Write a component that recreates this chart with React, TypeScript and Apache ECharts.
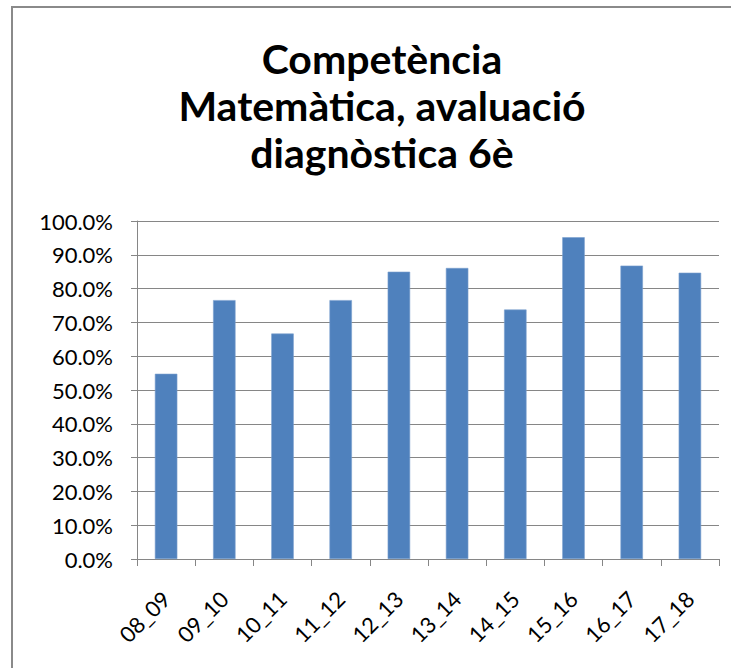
import React, { useEffect, useRef } from "react";
import * as echarts from "echarts";

const titleLines = ["Competència", "Matemàtica, avaluació", "diagnòstica 6è"];
const categories = ["08_09", "09_10", "10_11", "11_12", "12_13", "13_14", "14_15", "15_16", "16_17", "17_18"];
const values = [54.8, 76.6, 66.7, 76.6, 85.0, 86.1, 73.8, 95.2, 86.8, 84.7];
const yMin = 0;
const yMax = 100;
const yStep = 10;

export default function App() {
  const ref = useRef<HTMLDivElement>(null);
  useEffect(() => {
    if (!ref.current) return;
    const chart = echarts.init(ref.current, null, { renderer: "svg" });
    const font = "Lato, 'Liberation Sans', sans-serif";
    chart.setOption({
      animation: false,
      backgroundColor: "#ffffff",
      title: {
        text: titleLines.join("\n"),
        left: 377,
        top: 30,
        textAlign: "center",
        textStyle: {
          fontFamily: font,
          fontWeight: "bold",
          fontSize: 41,
          lineHeight: 47,
          color: "#000000",
        },
      },
      graphic: [
        {
          type: "rect",
          shape: { x: 12, y: 7, width: 760, height: 720 },
          style: { fill: "none", stroke: "#8a8a8a", lineWidth: 2 },
          silent: true,
          z: -1,
        },
      ],
      grid: { left: 137, right: 12, top: 221, bottom: 109, containLabel: false },
      xAxis: {
        type: "category",
        data: categories,
        axisLine: { show: true, lineStyle: { color: "#868686", width: 1 } },
        axisTick: { show: true, length: 7, alignWithLabel: false, lineStyle: { color: "#868686" } },
        axisLabel: {
          rotate: 45,
          margin: 36,
          interval: 0,
          fontFamily: font,
          fontSize: 22,
          color: "#000000",
        },
        splitLine: { show: false },
      },
      yAxis: {
        type: "value",
        min: yMin,
        max: yMax,
        interval: yStep,
        axisLine: { show: true, lineStyle: { color: "#868686", width: 1 } },
        axisTick: { show: true, length: 6, lineStyle: { color: "#868686" } },
        axisLabel: {
          margin: 24,
          fontFamily: font,
          fontSize: 22,
          color: "#000000",
          formatter: (v: number) => v.toFixed(1) + "%",
        },
        splitLine: { show: true, lineStyle: { color: "#868686", width: 1 } },
      },
      series: [
        {
          type: "bar",
          data: values,
          barWidth: "38.6%",
          itemStyle: { color: "#4F81BD", borderColor: "#7a9fcf", borderWidth: 0.6 },
        },
      ],
    });
    return () => chart.dispose();
  }, []);
  return (
    <div
      ref={ref}
      style={{ position: "fixed", left: 0, top: 0, width: 731, height: 668 }}
    />
  );
}
